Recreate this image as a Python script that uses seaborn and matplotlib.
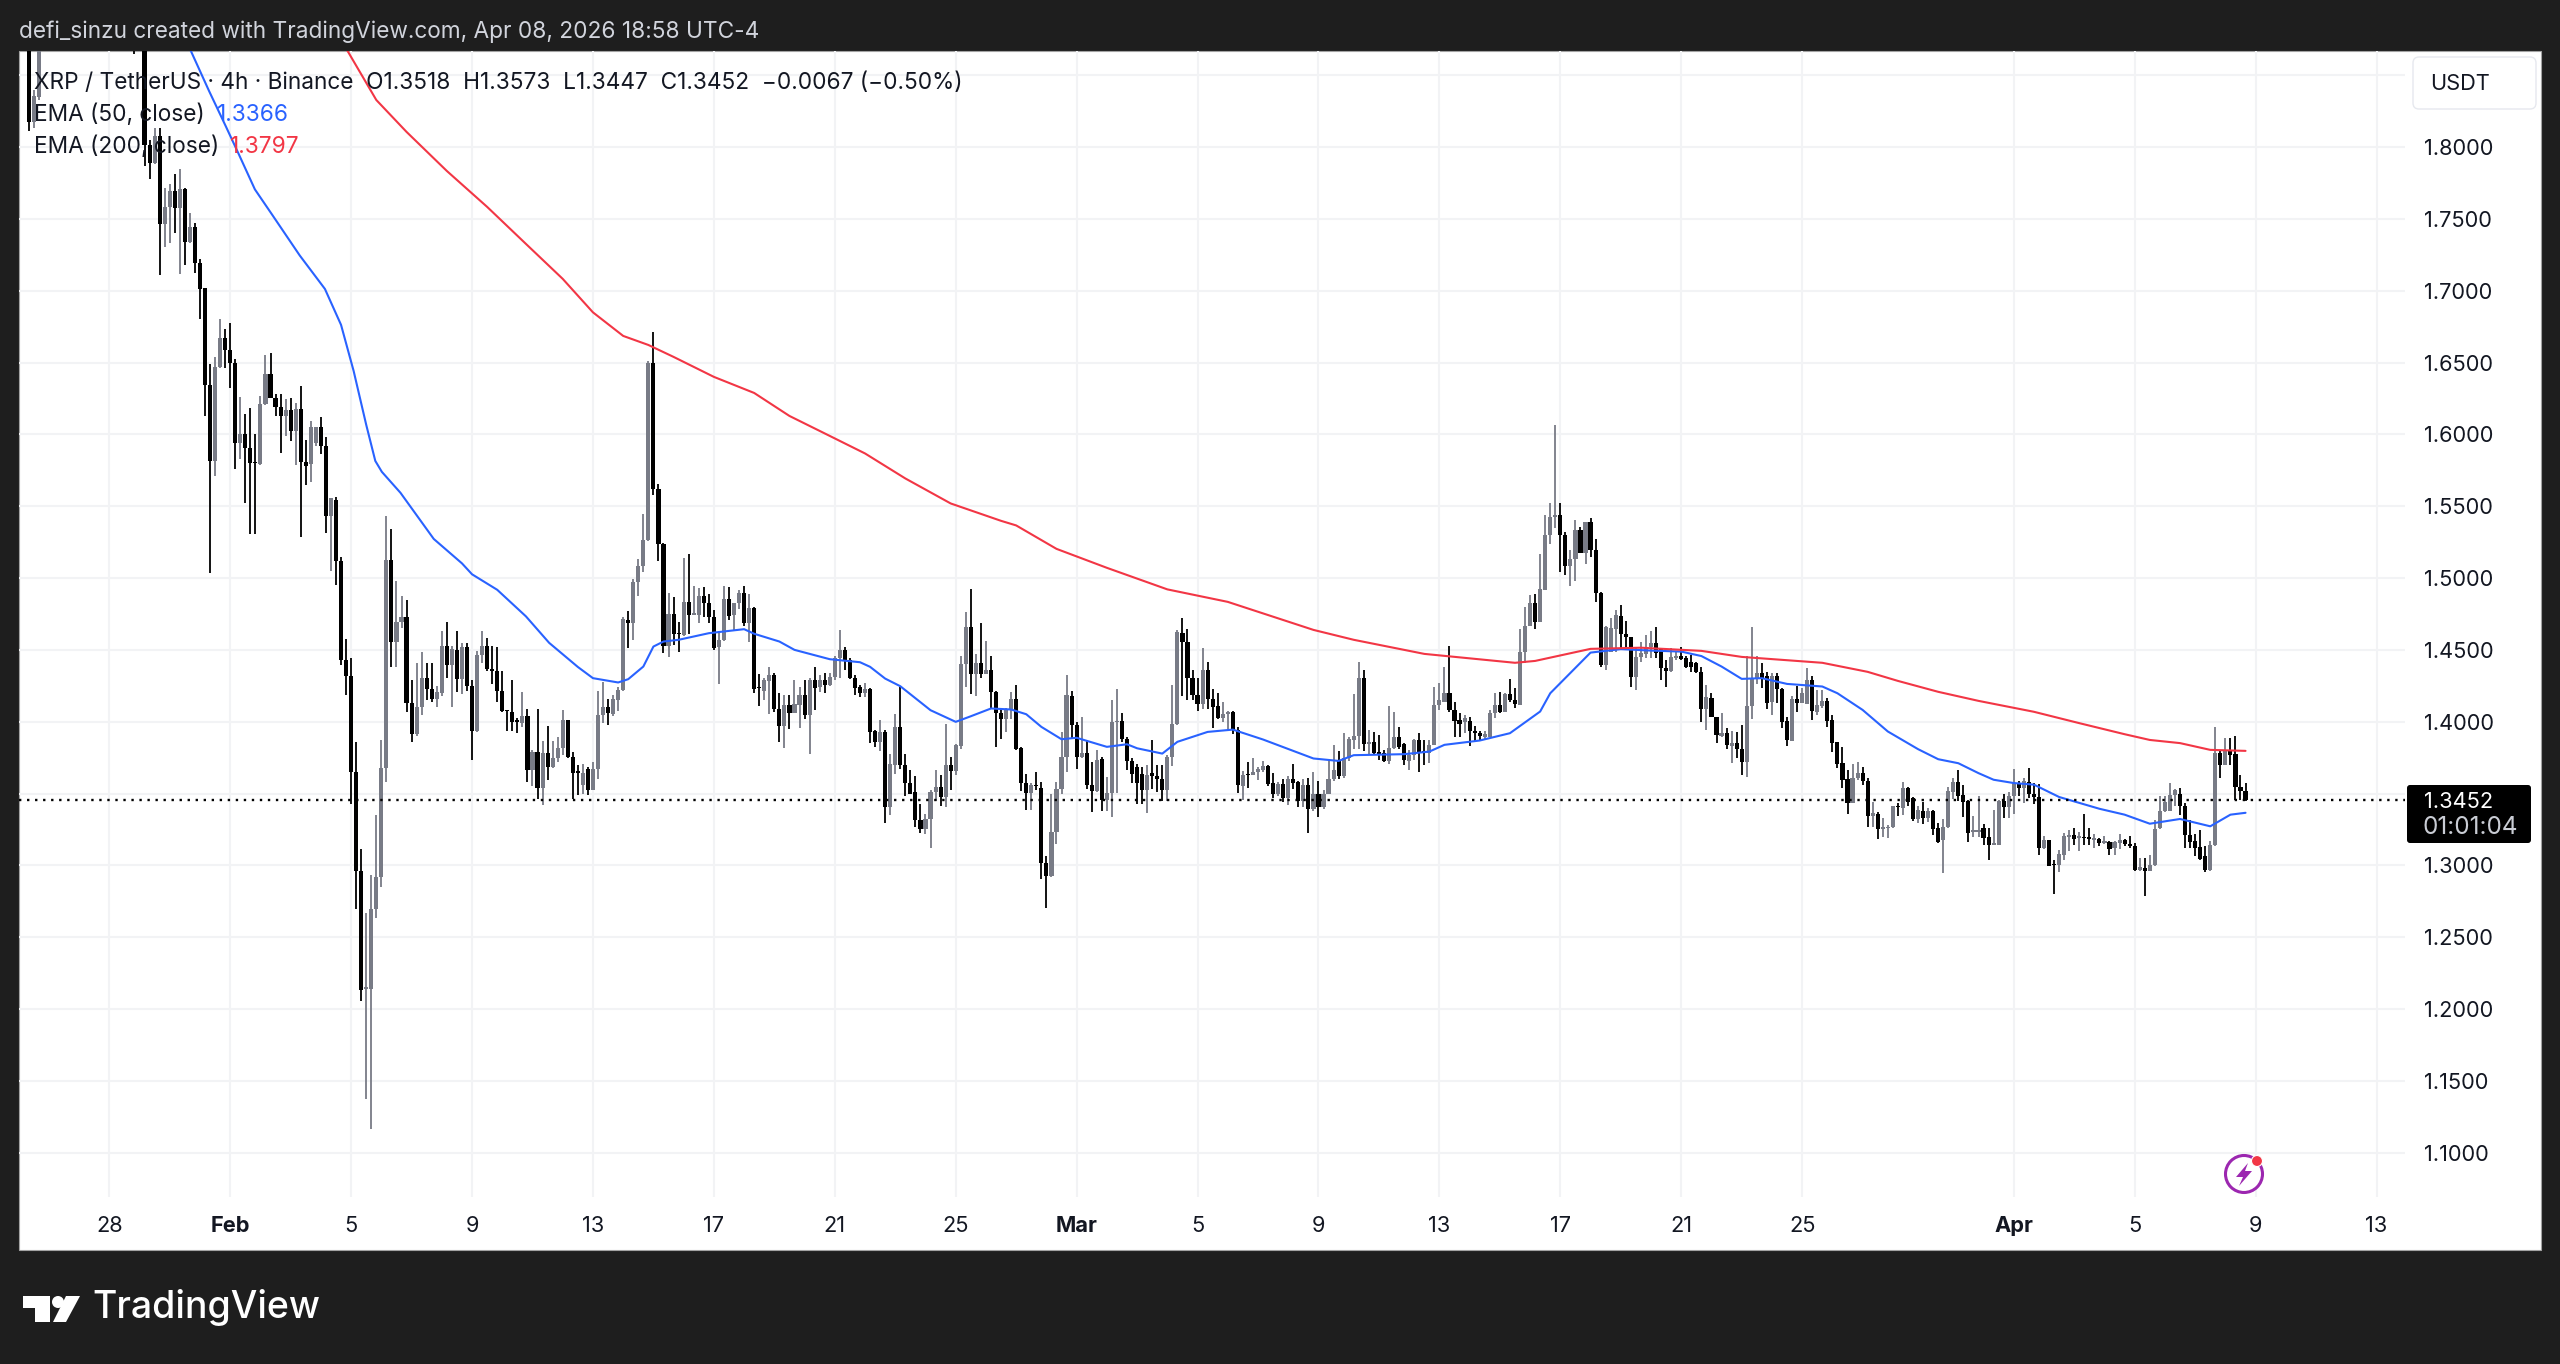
"""
XRP / USDT 4h candles with EMA 50 and EMA 200, TradingView snapshot look.
"""

import matplotlib
matplotlib.use("Agg")
import matplotlib.dates as mdates
import matplotlib.pyplot as plt
from matplotlib.patches import Circle, FancyBboxPatch, Polygon, Rectangle
import numpy as np
import pandas as pd
import seaborn as sns

nan = float("nan")

# ── Candles, oldest first (4h bars, last one opened Apr 8 16:00) ──────────────
# The bars marked nan sit above the top of the pane.

opens = [1.90, 1.8176, 1.835] + [nan] * 18 + [1.90, nan] + [
    1.90, 1.8014, 1.789, 1.8076, 1.7466, 1.7582, 1.7694, 1.7578, 1.7710, 1.7341,
    1.7443, 1.7195, 1.7016, 1.6343, 1.5814, 1.6469, 1.6668, 1.6587, 1.6494, 1.5942,
    1.6, 1.5907, 1.581, 1.5791, 1.6209, 1.6418, 1.6255, 1.619, 1.6128, 1.6167,
    1.6023, 1.6178, 1.5805, 1.5793, 1.594, 1.6053, 1.5917, 1.5435, 1.5545, 1.5117,
    1.4429, 1.4321, 1.3648, 1.2958, 1.2143, 1.2143, 1.2694, 1.2916, 1.3677, 1.5125,
    1.4557, 1.4691, 1.4728, 1.4128, 1.3915, 1.4102, 1.4307, 1.4228, 1.4157, 1.4199,
    1.4526, 1.4398, 1.45, 1.4299, 1.4521, 1.425, 1.3932, 1.4463, 1.4526, 1.4364,
    1.435, 1.4213, 1.4078, 1.4066, 1.4014, 1.3989, 1.4037, 1.3663, 1.3791, 1.354,
    1.3782, 1.3682, 1.3745, 1.3816, 1.4015, 1.3753, 1.3652, 1.356, 1.3674, 1.3528,
    1.3674, 1.4048, 1.4102, 1.4053, 1.4148, 1.4218, 1.4707, 1.4686, 1.4971, 1.5082,
    1.5264, 1.65, 1.5621, 1.5236, 1.453, 1.475, 1.4616, 1.4605, 1.4832, 1.4744,
    1.4744, 1.4876, 1.4825, 1.4727, 1.4518, 1.4571, 1.4853, 1.4744, 1.4825, 1.4897,
    1.4688, 1.479, 1.4238, 1.4217, 1.4285, 1.4322, 1.4087, 1.3971, 1.4117, 1.4059,
    1.4117, 1.4187, 1.4048, 1.4287, 1.4241, 1.4287, 1.4252, 1.4308, 1.4442, 1.45,
    1.4431, 1.4301, 1.4242, 1.42, 1.4231, 1.3936, 1.386, 1.3925, 1.3403, 1.3702,
    1.396, 1.3697, 1.357, 1.3512, 1.3319, 1.3256, 1.3326, 1.3512, 1.3546, 1.3477,
    1.3697, 1.3656, 1.3832, 1.4405, 1.466, 1.4331, 1.441, 1.4331, 1.4363, 1.4208,
    1.4062, 1.4022, 1.408, 1.4161, 1.3818, 1.357, 1.3505, 1.3558, 1.3542, 1.302,
    1.2925, 1.3233, 1.3535, 1.3755, 1.418, 1.3976, 1.3751, 1.3783, 1.3558, 1.3519,
    1.3737, 1.3458, 1.3505, 1.3999, 1.4006, 1.3883, 1.3727, 1.3686, 1.3635, 1.3523,
    1.3644, 1.3623, 1.3604, 1.3523, 1.3751, 1.3983, 1.4618, 1.4556, 1.4307, 1.4184,
    1.412, 1.4358, 1.4161, 1.411, 1.4027, 1.4052, 1.4068, 1.3945, 1.3553, 1.3635,
    1.3628, 1.3651, 1.3662, 1.3692, 1.357, 1.3496, 1.3565, 1.3472, 1.3598, 1.3577,
    1.3447, 1.3558, 1.3391, 1.3496, 1.3403, 1.35, 1.3598, 1.373, 1.3623, 1.3744,
    1.3871, 1.3901, 1.4301, 1.3848, 1.386, 1.379, 1.3783, 1.3725, 1.382, 1.3894,
    1.3843, 1.3727, 1.3767, 1.3871, 1.3797, 1.3781, 1.3839, 1.4117, 1.414, 1.4198,
    1.4082, 1.4013, 1.4001, 1.4008, 1.3932, 1.392, 1.3897, 1.3897, 1.4059, 1.4117,
    1.4071, 1.4191, 1.4152, 1.4117, 1.4484, 1.4669, 1.4825, 1.4697, 1.4918, 1.5296,
    1.5428, 1.544, 1.5296, 1.5087, 1.5131, 1.5331, 1.5173, 1.5389, 1.5196, 1.4899,
    1.4396, 1.4488, 1.4644, 1.4737, 1.4609, 1.4588, 1.4314, 1.4449, 1.4472, 1.4523,
    1.4546, 1.4512, 1.4372, 1.4356, 1.4442, 1.4458, 1.4442, 1.4419, 1.4407, 1.4349,
    1.4087, 1.4164, 1.4031, 1.3901, 1.392, 1.3834, 1.385, 1.3809, 1.3723, 1.411,
    1.4303, 1.4342, 1.4321, 1.414, 1.4321, 1.4229, 1.4008, 1.3869, 1.4157, 1.4129,
    1.4124, 1.4291, 1.4071, 1.411, 1.4147, 1.4013, 1.3857, 1.3711, 1.36, 1.3437,
    1.3607, 1.3642, 1.3584, 1.3345, 1.3358, 1.3252, 1.3259, 1.3266, 1.3414, 1.3398,
    1.3537, 1.3468, 1.3321, 1.3379, 1.3328, 1.3379, 1.3259, 1.3178, 1.3266, 1.3514,
    1.3577, 1.3491, 1.3451, 1.3229, 1.3229, 1.326, 1.3197, 1.3144, 1.3144, 1.3446,
    1.3406, 1.348, 1.3573, 1.3542, 1.3578, 1.3499, 1.3476, 1.3121, 1.3174, 1.3009,
    1.3005, 1.3074, 1.3197, 1.3214, 1.319, 1.3197, 1.3193, 1.3174, 1.3183, 1.3156,
    1.316, 1.3121, 1.3156, 1.3179, 1.3151, 1.3137, 1.297, 1.2982, 1.2958, 1.3,
    1.326, 1.3376, 1.3376, 1.3492, 1.3499, 1.3415, 1.3214, 1.3167, 1.3128, 1.3063,
    1.297, 1.3139, 1.3782, 1.3696, 1.3805, 1.3777, 1.3545, 1.3518,
]

highs = [1.91, 1.840, 1.91] + [nan] * 18 + [1.91, nan] + [
    1.91, 1.805, 1.8134, 1.813, 1.7717, 1.774, 1.7814, 1.7844, 1.7715, 1.7543,
    1.7473, 1.7218, 1.7016, 1.6492, 1.6538, 1.680, 1.673, 1.6777, 1.6522, 1.626,
    1.614, 1.618, 1.6, 1.6267, 1.6552, 1.6568, 1.628, 1.628, 1.6244, 1.6255,
    1.622, 1.6339, 1.596, 1.609, 1.6053, 1.612, 1.598, 1.5556, 1.5565, 1.5145,
    1.4577, 1.4441, 1.3861, 1.3114, 1.2666, 1.293, 1.335, 1.3871, 1.5435, 1.5338,
    1.498, 1.4875, 1.4847, 1.4293, 1.4406, 1.4486, 1.4412, 1.4412, 1.425, 1.4628,
    1.4696, 1.4526, 1.4628, 1.4549, 1.4549, 1.4293, 1.4492, 1.4634, 1.4583, 1.4526,
    1.4521, 1.435, 1.4081, 1.4293, 1.4026, 1.4208, 1.4086, 1.3805, 1.4089, 1.3867,
    1.3967, 1.3867, 1.3891, 1.408, 1.4015, 1.3788, 1.3698, 1.3705, 1.3686, 1.372,
    1.4216, 1.4278, 1.416, 1.4183, 1.4241, 1.4726, 1.4767, 1.4994, 1.5134, 1.5444,
    1.6507, 1.6709, 1.5656, 1.5243, 1.4899, 1.4867, 1.4697, 1.5138, 1.5168, 1.4946,
    1.4929, 1.4936, 1.4888, 1.4778, 1.4629, 1.4946, 1.4936, 1.4825, 1.4915, 1.4941,
    1.4888, 1.4797, 1.4331, 1.4303, 1.4384, 1.4338, 1.4198, 1.4186, 1.4186, 1.4287,
    1.4245, 1.4291, 1.4303, 1.4384, 1.4326, 1.4338, 1.4338, 1.4458, 1.464, 1.4518,
    1.4442, 1.4326, 1.4254, 1.4266, 1.4238, 1.3945, 1.401, 1.3945, 1.3774, 1.4057,
    1.4242, 1.3778, 1.3662, 1.3623, 1.3424, 1.3361, 1.3523, 1.3667, 1.3628, 1.3987,
    1.3751, 1.3848, 1.4456, 1.4764, 1.4927, 1.4474, 1.4688, 1.4563, 1.4456, 1.4215,
    1.4092, 1.4092, 1.4208, 1.4254, 1.3825, 1.3635, 1.357, 1.3651, 1.3581, 1.3064,
    1.35, 1.3581, 1.3929, 1.4328, 1.4215, 1.3999, 1.4034, 1.3871, 1.372, 1.3802,
    1.3751, 1.3616, 1.415, 1.4231, 1.4062, 1.3894, 1.3744, 1.3705, 1.3686, 1.3702,
    1.3871, 1.3697, 1.3697, 1.3767, 1.4254, 1.4637, 1.4725, 1.4648, 1.4358, 1.4307,
    1.4516, 1.4416, 1.4231, 1.4201, 1.4138, 1.4075, 1.4075, 1.3964, 1.3656, 1.372,
    1.3744, 1.3686, 1.3727, 1.3697, 1.364, 1.3581, 1.3598, 1.3621, 1.3709, 1.3588,
    1.3598, 1.3611, 1.3651, 1.3588, 1.3524, 1.3732, 1.3837, 1.3793, 1.3918, 1.3894,
    1.4191, 1.4416, 1.4363, 1.3945, 1.3929, 1.3906, 1.3806, 1.4108, 1.4068, 1.3964,
    1.3853, 1.3802, 1.3883, 1.3918, 1.3874, 1.3874, 1.4245, 1.4268, 1.4384, 1.4528,
    1.414, 1.4059, 1.4048, 1.4036, 1.3971, 1.3936, 1.3932, 1.4082, 1.4198, 1.421,
    1.4198, 1.4296, 1.4233, 1.4644, 1.4797, 1.4883, 1.4887, 1.5168, 1.544, 1.5521,
    1.6066, 1.5525, 1.5319, 1.5196, 1.5405, 1.5358, 1.5393, 1.5416, 1.527, 1.4906,
    1.4665, 1.472, 1.4778, 1.4813, 1.4704, 1.4593, 1.4523, 1.4558, 1.4604, 1.4628,
    1.4662, 1.4512, 1.443, 1.4512, 1.4488, 1.4523, 1.4454, 1.4465, 1.4419, 1.4384,
    1.4256, 1.4203, 1.4036, 1.4064, 1.3955, 1.3932, 1.3925, 1.3978, 1.4454, 1.4658,
    1.4458, 1.4407, 1.4349, 1.4338, 1.4338, 1.4233, 1.4036, 1.418, 1.425, 1.4233,
    1.4372, 1.4321, 1.4222, 1.4222, 1.4164, 1.4048, 1.3862, 1.3823, 1.3665, 1.3707,
    1.3723, 1.3688, 1.3607, 1.3444, 1.3375, 1.3328, 1.3282, 1.341, 1.3433, 1.3577,
    1.3544, 1.3475, 1.3414, 1.3444, 1.3398, 1.3382, 1.3294, 1.3321, 1.3549, 1.3607,
    1.3665, 1.356, 1.3456, 1.3345, 1.348, 1.329, 1.326, 1.3387, 1.3457, 1.35,
    1.3508, 1.3671, 1.3589, 1.3608, 1.3678, 1.3573, 1.3568, 1.3207, 1.3179, 1.304,
    1.3109, 1.3225, 1.3244, 1.326, 1.323, 1.336, 1.326, 1.322, 1.319, 1.3207,
    1.3167, 1.3167, 1.322, 1.3183, 1.3202, 1.3156, 1.3051, 1.3051, 1.3074, 1.3318,
    1.3485, 1.348, 1.3573, 1.3531, 1.3536, 1.3434, 1.3318, 1.322, 1.3244, 1.3132,
    1.3167, 1.3963, 1.3805, 1.3886, 1.3886, 1.3898, 1.3631, 1.3573,
]

lows = [1.811, 1.813, 1.833] + [nan] * 18 + [1.865, nan] + [
    1.7868, 1.778, 1.788, 1.711, 1.7306, 1.7334, 1.7404, 1.7114, 1.7179, 1.7335,
    1.7125, 1.6805, 1.6128, 1.5036, 1.571, 1.6465, 1.6464, 1.6325, 1.5756, 1.5826,
    1.5524, 1.5304, 1.5309, 1.5785, 1.6205, 1.6255, 1.6128, 1.5872, 1.5988, 1.5954,
    1.579, 1.5283, 1.565, 1.567, 1.592, 1.586, 1.531, 1.5046, 1.4952, 1.4392,
    1.4185, 1.3427, 1.2694, 1.2058, 1.1373, 1.1167, 1.2632, 1.2849, 1.3577, 1.4378,
    1.4378, 1.465, 1.4066, 1.3858, 1.39, 1.4045, 1.4151, 1.4137, 1.41, 1.418,
    1.4301, 1.4103, 1.4208, 1.4193, 1.4213, 1.3731, 1.3926, 1.4406, 1.435, 1.4264,
    1.4137, 1.4066, 1.3938, 1.3938, 1.3918, 1.3966, 1.3583, 1.3555, 1.3461, 1.3421,
    1.3597, 1.3675, 1.372, 1.3768, 1.3745, 1.3461, 1.349, 1.35, 1.3488, 1.3523,
    1.3604, 1.399, 1.398, 1.4041, 1.4074, 1.4213, 1.4516, 1.457, 1.4878, 1.5041,
    1.526, 1.5579, 1.5115, 1.4477, 1.445, 1.4535, 1.4484, 1.4598, 1.4611, 1.474,
    1.469, 1.4732, 1.469, 1.45, 1.4265, 1.4565, 1.471, 1.464, 1.4783, 1.4669,
    1.4557, 1.4198, 1.4106, 1.4152, 1.4052, 1.4071, 1.3862, 1.382, 1.3948, 1.4058,
    1.3955, 1.4022, 1.3773, 1.4083, 1.4208, 1.4198, 1.425, 1.4291, 1.4303, 1.4362,
    1.4296, 1.4187, 1.4173, 1.4173, 1.3855, 1.3825, 1.3797, 1.3296, 1.3349, 1.3635,
    1.3674, 1.3482, 1.3495, 1.3268, 1.3222, 1.3215, 1.3122, 1.3449, 1.3412, 1.3403,
    1.3528, 1.3628, 1.3813, 1.4242, 1.4191, 1.418, 1.4307, 1.4331, 1.4085, 1.3825,
    1.3883, 1.393, 1.4022, 1.3806, 1.3519, 1.3384, 1.3384, 1.3523, 1.2904, 1.27,
    1.292, 1.3147, 1.35, 1.3651, 1.3883, 1.3669, 1.3744, 1.3535, 1.337, 1.3512,
    1.338, 1.338, 1.3338, 1.3505, 1.386, 1.3662, 1.3574, 1.343, 1.343, 1.3365,
    1.3535, 1.3512, 1.3449, 1.3449, 1.3691, 1.3976, 1.4177, 1.4154, 1.415, 1.4075,
    1.4085, 1.4085, 1.3957, 1.4022, 1.3999, 1.3945, 1.3917, 1.3505, 1.3454, 1.3542,
    1.3628, 1.3593, 1.3651, 1.3551, 1.3466, 1.348, 1.3442, 1.3421, 1.3535, 1.3408,
    1.3408, 1.3222, 1.338, 1.3338, 1.3389, 1.3495, 1.3588, 1.3598, 1.3605, 1.3727,
    1.3813, 1.3813, 1.3795, 1.3772, 1.3778, 1.3732, 1.372, 1.3704, 1.3813, 1.3813,
    1.3697, 1.3662, 1.3732, 1.3648, 1.37, 1.3716, 1.3839, 1.4082, 1.414, 1.4071,
    1.3897, 1.3897, 1.392, 1.3834, 1.3869, 1.3874, 1.3874, 1.3892, 1.4024, 1.4059,
    1.4066, 1.414, 1.4094, 1.4113, 1.4407, 1.4669, 1.4646, 1.4693, 1.4918, 1.5238,
    1.5347, 1.5041, 1.5022, 1.4945, 1.4977, 1.5173, 1.5097, 1.5145, 1.4836, 1.4384,
    1.4361, 1.4488, 1.4488, 1.4505, 1.4505, 1.4245, 1.4222, 1.4419, 1.4442, 1.4442,
    1.4442, 1.4291, 1.4245, 1.4349, 1.443, 1.4426, 1.4372, 1.4349, 1.4338, 1.4001,
    1.3943, 1.4031, 1.385, 1.3897, 1.3809, 1.3716, 1.3746, 1.363, 1.3618, 1.4017,
    1.4263, 1.4233, 1.4087, 1.4048, 1.4133, 1.3955, 1.3832, 1.3867, 1.4071, 1.4129,
    1.4124, 1.4013, 1.4048, 1.4094, 1.3966, 1.3788, 1.3676, 1.3537, 1.3359, 1.3437,
    1.3595, 1.356, 1.3266, 1.3266, 1.3182, 1.3201, 1.3189, 1.3259, 1.3345, 1.3352,
    1.341, 1.3312, 1.3294, 1.3289, 1.3305, 1.3212, 1.3159, 1.295, 1.3259, 1.3461,
    1.3451, 1.334, 1.3166, 1.3196, 1.32, 1.3144, 1.304, 1.314, 1.3142, 1.333,
    1.3329, 1.336, 1.348, 1.3434, 1.3469, 1.3429, 1.3074, 1.3114, 1.2998, 1.2803,
    1.2954, 1.3035, 1.3098, 1.3144, 1.3098, 1.3144, 1.3144, 1.3121, 1.3137, 1.3151,
    1.3074, 1.3074, 1.3116, 1.3132, 1.3121, 1.2958, 1.2958, 1.2789, 1.2958, 1.2993,
    1.3253, 1.3369, 1.3376, 1.3411, 1.3353, 1.3121, 1.3121, 1.3063, 1.3035, 1.2951,
    1.2958, 1.3132, 1.3608, 1.3696, 1.37, 1.3457, 1.3457, 1.3447,
]

closes = [1.8176, 1.8355, 1.90] + [nan] * 18 + [1.885, nan] + [
    1.8014, 1.789, 1.8076, 1.7466, 1.7582, 1.7694, 1.7578, 1.7705, 1.7341, 1.7443,
    1.719, 1.7014, 1.6343, 1.5814, 1.6469, 1.6668, 1.6587, 1.6494, 1.5942, 1.6,
    1.5907, 1.5803, 1.58, 1.6209, 1.6418, 1.6255, 1.619, 1.6128, 1.6167, 1.6023,
    1.6174, 1.5805, 1.578, 1.6053, 1.6053, 1.592, 1.5432, 1.5556, 1.5117, 1.4429,
    1.4321, 1.3648, 1.2958, 1.2135, 1.215, 1.2694, 1.2916, 1.3677, 1.5125, 1.4557,
    1.4691, 1.4728, 1.4128, 1.3915, 1.4102, 1.4307, 1.4228, 1.4157, 1.4208, 1.4526,
    1.4398, 1.4506, 1.4299, 1.4521, 1.425, 1.3932, 1.4463, 1.4526, 1.4364, 1.435,
    1.4213, 1.4072, 1.4074, 1.4, 1.4, 1.4037, 1.3663, 1.3791, 1.354, 1.3782,
    1.3682, 1.3748, 1.3816, 1.4015, 1.3753, 1.3645, 1.3645, 1.3645, 1.3528, 1.3674,
    1.4048, 1.4102, 1.406, 1.416, 1.4218, 1.4714, 1.4686, 1.4971, 1.5082, 1.5264,
    1.65, 1.5621, 1.5236, 1.453, 1.475, 1.4611, 1.4611, 1.4832, 1.4744, 1.4755,
    1.4876, 1.4825, 1.4727, 1.4512, 1.4571, 1.4853, 1.4737, 1.4825, 1.4897, 1.4688,
    1.479, 1.4226, 1.4232, 1.4287, 1.4322, 1.4087, 1.3971, 1.4117, 1.4064, 1.4124,
    1.4187, 1.4048, 1.4291, 1.4236, 1.4287, 1.4257, 1.4308, 1.4442, 1.45, 1.4431,
    1.4301, 1.4238, 1.42, 1.4231, 1.3929, 1.386, 1.3929, 1.3403, 1.3709, 1.396,
    1.3697, 1.357, 1.35, 1.3319, 1.3256, 1.3326, 1.3512, 1.3546, 1.3477, 1.3697,
    1.3656, 1.3837, 1.4405, 1.466, 1.4331, 1.441, 1.4331, 1.4363, 1.4208, 1.4062,
    1.4022, 1.408, 1.4161, 1.3813, 1.357, 1.3505, 1.3558, 1.3551, 1.302, 1.2925,
    1.3233, 1.3535, 1.3755, 1.4184, 1.3976, 1.3751, 1.3783, 1.3558, 1.3519, 1.3732,
    1.3458, 1.3505, 1.3999, 1.4006, 1.3883, 1.3727, 1.3635, 1.357, 1.3523, 1.3628,
    1.3623, 1.3604, 1.3523, 1.3755, 1.3983, 1.4625, 1.4556, 1.4307, 1.4184, 1.412,
    1.4358, 1.4161, 1.4103, 1.4027, 1.4052, 1.4068, 1.3945, 1.3558, 1.3628, 1.3628,
    1.3651, 1.3669, 1.3692, 1.3565, 1.3496, 1.3565, 1.3472, 1.3598, 1.357, 1.3447,
    1.3558, 1.3391, 1.3496, 1.3403, 1.35, 1.3598, 1.3663, 1.3623, 1.3744, 1.3883,
    1.3901, 1.4301, 1.3848, 1.386, 1.3785, 1.3778, 1.3725, 1.382, 1.3894, 1.3825,
    1.3732, 1.3767, 1.3871, 1.3783, 1.3788, 1.3839, 1.4117, 1.4152, 1.4198, 1.4082,
    1.4008, 1.3985, 1.4024, 1.3932, 1.392, 1.3901, 1.3913, 1.4059, 1.4117, 1.4066,
    1.4191, 1.4152, 1.4124, 1.4488, 1.4669, 1.4825, 1.4697, 1.4925, 1.5296, 1.5428,
    1.544, 1.5296, 1.5087, 1.5131, 1.5331, 1.5173, 1.5389, 1.5196, 1.4894, 1.4396,
    1.4662, 1.4651, 1.4744, 1.4609, 1.4588, 1.4314, 1.4449, 1.4477, 1.4523, 1.4546,
    1.4481, 1.4372, 1.4356, 1.4449, 1.4454, 1.4435, 1.4384, 1.4379, 1.4349, 1.4087,
    1.4171, 1.4031, 1.3908, 1.392, 1.3839, 1.385, 1.3809, 1.3723, 1.411, 1.4303,
    1.4342, 1.4303, 1.4133, 1.4321, 1.4229, 1.4001, 1.3874, 1.4157, 1.4129, 1.4198,
    1.4291, 1.4075, 1.4117, 1.4147, 1.4008, 1.385, 1.3707, 1.3595, 1.3437, 1.3607,
    1.3642, 1.3584, 1.3345, 1.3363, 1.3252, 1.3266, 1.327, 1.341, 1.3405, 1.3537,
    1.3444, 1.3324, 1.3382, 1.3328, 1.3379, 1.3252, 1.3166, 1.327, 1.3519, 1.3577,
    1.3484, 1.3444, 1.3224, 1.3247, 1.3247, 1.319, 1.3144, 1.3155, 1.3446, 1.3406,
    1.348, 1.3573, 1.3538, 1.3585, 1.3499, 1.3476, 1.3121, 1.3174, 1.2998, 1.3,
    1.3081, 1.3202, 1.3214, 1.3183, 1.3207, 1.319, 1.3186, 1.319, 1.3156, 1.3167,
    1.3114, 1.316, 1.3179, 1.3151, 1.3132, 1.297, 1.2986, 1.2958, 1.3, 1.3253,
    1.3376, 1.3441, 1.3492, 1.3527, 1.3415, 1.3214, 1.316, 1.3121, 1.3044, 1.297,
    1.3144, 1.3782, 1.3696, 1.3805, 1.377, 1.3545, 1.3515, 1.3452,
]

# ── EMA lines: readings taken along each line, counted in bars before the last ─

ema50_bars = [412, 407.8, 404.2, 400.9, 398.3, 395.1, 391.7, 386.2, 381.2, 378, 375.5, 373,
              371.2, 369.9, 366.2, 359.6, 354, 352, 347, 341.3, 336.7, 331, 328, 323, 321,
              318, 316, 314, 311, 305, 298, 296, 291, 288, 281, 275, 273, 270, 267, 261,
              256, 253, 249, 245, 242, 239, 235, 232, 226, 222, 220, 215, 212, 206, 201,
              195, 185, 180, 177, 167, 162, 159, 152, 146, 140, 138, 130, 124, 118, 112,
              108, 104, 100, 96, 91, 84, 81, 76, 71, 65, 61, 57, 53, 50, 46, 42, 37, 29,
              24, 19, 13, 7, 3, 0]
ema50_vals = [1.89, 1.8668, 1.839, 1.8146, 1.795, 1.7705, 1.753, 1.7245, 1.7012, 1.6762,
              1.6441, 1.6066, 1.5815, 1.5739, 1.5593, 1.5272, 1.5102, 1.5026, 1.4918, 1.4733,
              1.4549, 1.4381, 1.4303, 1.4273, 1.4296, 1.4384, 1.4523, 1.4558, 1.457,
              1.4616, 1.4644, 1.4612, 1.4558, 1.45, 1.4435, 1.4414, 1.4382, 1.43, 1.4247,
              1.408, 1.3999, 1.4038, 1.4092, 1.4085, 1.4052, 1.3964, 1.3878, 1.3888,
              1.3825, 1.3843, 1.3815, 1.3778, 1.386, 1.3929, 1.3945, 1.3876, 1.3744,
              1.3727, 1.3767, 1.3774, 1.3792, 1.3839, 1.3869, 1.392, 1.4071, 1.4198,
              1.4481, 1.4505, 1.4495, 1.4488, 1.4457, 1.4384, 1.4298, 1.4303, 1.4263,
              1.4245, 1.4198, 1.4082, 1.3932, 1.3809, 1.3739, 1.3711, 1.3642, 1.3596,
              1.3573, 1.3562, 1.3476, 1.3394, 1.3353, 1.329, 1.3323, 1.3272, 1.3353, 1.3366]

ema200_bars = [385, 376.7, 371, 365, 357, 349, 341.5, 334, 328, 322, 317, 312, 304, 296, 289,
               281, 274, 266, 257, 247, 244, 236, 226, 214, 202, 185, 177, 163, 145, 141,
               130, 120, 108, 100, 84, 75, 69, 61, 53, 42, 33, 24, 19, 13, 7, 0]
ema200_vals = [1.90, 1.8668, 1.8327, 1.8105, 1.7833, 1.7583, 1.7332, 1.7082, 1.6849, 1.6685,
               1.6622, 1.6539, 1.64, 1.6288, 1.6128, 1.5989, 1.5867, 1.5693, 1.5519, 1.5398,
               1.5366, 1.5203, 1.5071, 1.4921, 1.4834, 1.4639, 1.457, 1.4472, 1.441, 1.4423,
               1.4507, 1.4515, 1.4493, 1.4451, 1.441, 1.4347, 1.4284, 1.4208, 1.4145, 1.4069,
               1.399, 1.3913, 1.3873, 1.3851, 1.3804, 1.3797]

last_close = 1.3452

# ── Axis ticks ────────────────────────────────────────────────────────────────

price_ticks = [1.85, 1.80, 1.75, 1.70, 1.65, 1.60, 1.55, 1.50, 1.45, 1.40, 1.35, 1.30,
               1.25, 1.20, 1.15, 1.10]
price_labels = ["", "1.8000", "1.7500", "1.7000", "1.6500", "1.6000", "1.5500", "1.5000",
                "1.4500", "1.4000", "", "1.3000", "1.2500", "1.2000", "1.1500", "1.1000"]
time_ticks = ["2026-01-28", "2026-02-01", "2026-02-05", "2026-02-09", "2026-02-13",
              "2026-02-17", "2026-02-21", "2026-02-25", "2026-03-01", "2026-03-05",
              "2026-03-09", "2026-03-13", "2026-03-17", "2026-03-21", "2026-03-25",
              "2026-04-01", "2026-04-05", "2026-04-09", "2026-04-13"]
time_labels = ["28", "Feb", "5", "9", "13", "17", "21", "25", "Mar", "5", "9", "13", "17",
               "21", "25", "Apr", "5", "9", "13"]

DARK = "#1e1e1e"
INK = "#131722"
GRID = "#f2f3f5"
UP = "#787b86"
DOWN = "#000000"
BLUE = "#2962ff"
RED = "#f23645"
PURPLE = "#9c27b0"

sns.set_theme(style="white")
plt.rcParams["font.family"] = ["Inter", "DejaVu Sans"]

W, H = 2560, 1364
fig = plt.figure(figsize=(W / 100, H / 100), dpi=100, facecolor=DARK)

# pixel-coordinate layers behind and above the price pane
bg = fig.add_axes([0, 0, 1, 1], zorder=0)
bg.set_xlim(0, W)
bg.set_ylim(H, 0)
bg.axis("off")
bg.add_patch(Rectangle((19, 51), 2522, 1199, facecolor="white", edgecolor="#a3a3a3", lw=0.8))

PANE = (19, 51, 2405, 1197)
ax = fig.add_axes([PANE[0] / W, 1 - PANE[3] / H, (PANE[2] - PANE[0]) / W, (PANE[3] - PANE[1]) / H],
                  zorder=2)
ax.patch.set_alpha(0)

last_bar = pd.Timestamp("2026-04-08 16:00")
dates = mdates.date2num(pd.date_range(end=last_bar, periods=len(opens), freq="4h"))
feb1 = mdates.date2num(pd.Timestamp("2026-02-01"))


def bars_back(bars):
    return mdates.date2num([last_bar - pd.Timedelta(hours=4 * b) for b in bars])


candles = pd.DataFrame({"x": dates, "o": opens, "h": highs, "l": lows, "c": closes}).dropna()
candles["colour"] = np.where(candles["c"] >= candles["o"], UP, DOWN)

# gridlines first, then wick and body of each candle
ax.set_axisbelow(True)
ax.grid(True, color=GRID, lw=1.5)
ax.vlines(candles["x"], candles["l"], candles["h"], colors=candles["colour"], lw=1.3, zorder=3)
ax.bar(candles["x"], (candles["c"] - candles["o"]).abs().clip(lower=0.0009),
       bottom=candles[["o", "c"]].min(axis=1), width=0.82 / 6, color=candles["colour"],
       linewidth=0, zorder=3)

sns.lineplot(x=bars_back(ema50_bars), y=ema50_vals, ax=ax, color=BLUE, lw=1.5, sort=False,
             errorbar=None, zorder=4)
sns.lineplot(x=bars_back(ema200_bars), y=ema200_vals, ax=ax, color=RED, lw=1.5, sort=False,
             errorbar=None, zorder=4)
ax.axhline(last_close, color="black", lw=1.7, ls=(0, (1, 2.4)), zorder=5)

ax.set_ylim(1.0692, 1.8668)
ax.set_xlim(feb1 + (PANE[0] - 230.2) / 30.23, feb1 + (PANE[2] - 230.2) / 30.23)

ax.yaxis.tick_right()
ax.set_yticks(price_ticks)
ax.set_yticklabels(price_labels, fontsize=15.7, color=INK)
ax.set_xticks(mdates.date2num(pd.to_datetime(time_ticks)))
ax.set_xticklabels(time_labels, fontsize=15.7, color=INK)
for lab, txt in zip(ax.get_xticklabels(), time_labels):
    if txt in ("Feb", "Mar", "Apr"):
        lab.set_fontweight("bold")
ax.tick_params(axis="y", length=0, pad=14)
ax.tick_params(axis="x", length=0, pad=14)
for side in ax.spines.values():
    side.set_visible(False)

# ── Header, legend, price tag, logos ──────────────────────────────────────────

ov = fig.add_axes([0, 0, 1, 1], zorder=3)
ov.set_xlim(0, W)
ov.set_ylim(H, 0)
ov.axis("off")

ov.text(19, 32, "defi_sinzu created with TradingView.com, Apr 08, 2026 18:58 UTC-4",
        color="#d1d4dc", fontsize=16.3, va="center", ha="left")

ov.text(34, 83, "XRP / TetherUS · 4h · Binance  O1.3518  H1.3573  L1.3447  C1.3452  "
        "−0.0067 (−0.50%)", color=INK, fontsize=16.3, va="center")
ov.text(34, 115, "EMA (50, close)", color=INK, fontsize=16.3, va="center")
ov.text(217, 115, "1.3366", color=BLUE, fontsize=16.3, va="center")
ov.text(34, 147, "EMA (200, close)", color=INK, fontsize=16.3, va="center")
ov.text(230, 147, "1.3797", color=RED, fontsize=16.3, va="center")

ov.add_patch(FancyBboxPatch((2413, 57), 123, 52, boxstyle="round,pad=0,rounding_size=6",
                            facecolor="white", edgecolor="#e6e8ee", lw=1))
ov.text(2460, 84, "USDT", color=INK, fontsize=15.7, va="center", ha="center")

ov.add_patch(FancyBboxPatch((2407, 785), 124, 58, boxstyle="round,pad=0,rounding_size=3",
                            facecolor="black", edgecolor="none"))
ov.text(2424, 802, "1.3452", color="white", fontsize=15.7, va="center", ha="left")
ov.text(2422, 828, "01:01:04", color="#c9ccd4", fontsize=17.5, va="center", ha="left")

# news lightning badge
ov.add_patch(Circle((2244, 1174), 18.5, facecolor="white", edgecolor=PURPLE, lw=2.2))
ov.add_patch(Polygon([(2248, 1163), (2236, 1177), (2243, 1177), (2239, 1186), (2252, 1171),
                      (2245, 1171)], closed=True, facecolor=PURPLE, edgecolor="none"))
ov.add_patch(Circle((2257, 1161), 5.5, facecolor=RED, edgecolor="white", lw=0.8))

# TradingView mark
ov.add_patch(Polygon([(23, 1296), (50, 1296), (50, 1322), (35, 1322), (35, 1308), (23, 1308)],
                     closed=True, facecolor="white", edgecolor="none"))
ov.add_patch(Circle((58, 1302), 6, facecolor="white", edgecolor="none"))
ov.add_patch(Polygon([(66, 1296), (80, 1296), (66, 1322), (53, 1322)], closed=True,
                     facecolor="white", edgecolor="none"))
ov.text(92, 1308, "TradingView", color="white", fontsize=27, fontweight="medium",
        va="center", ha="left")

assert len(opens) == len(highs) == len(lows) == len(closes)
assert len(ema50_bars) == len(ema50_vals) and len(ema200_bars) == len(ema200_vals)

fig.savefig("out.png", dpi=100)
plt.close(fig)
